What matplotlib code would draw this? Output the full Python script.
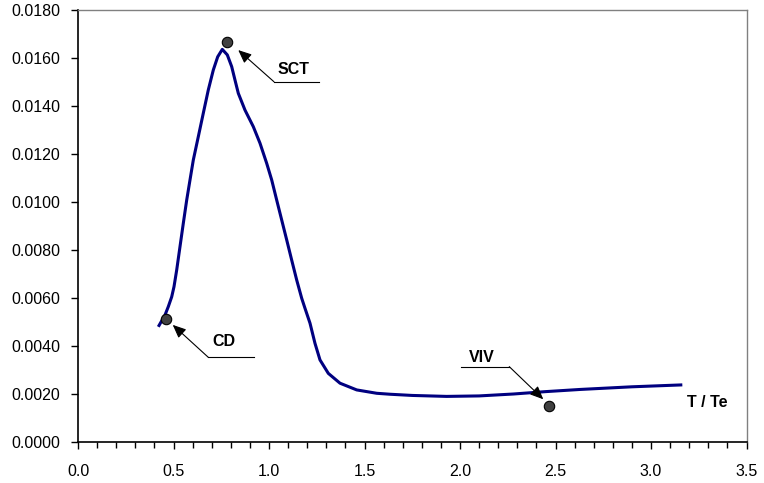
import matplotlib
matplotlib.use("Agg")
import matplotlib.pyplot as plt
from matplotlib.ticker import MultipleLocator, FormatStrFormatter

plt.rcParams['font.family'] = ['Liberation Sans', 'DejaVu Sans']

# Curve
curve_x = [0.4204, 0.4555, 0.4728, 0.4906, 0.5026, 0.5168, 0.5340, 0.5513, 0.5691, 0.5864,
           0.6037, 0.6298, 0.6560, 0.6822, 0.7084, 0.7314, 0.7555, 0.7817, 0.8047, 0.8220,
           0.8393, 0.8743, 0.9178, 0.9529, 0.9880, 1.0141, 1.0403, 1.0665, 1.0927, 1.1188,
           1.1450, 1.1712, 1.1885, 1.2147, 1.2408, 1.2670, 1.3105, 1.3717, 1.4592, 1.5639,
           1.6335, 1.7500, 1.9300, 2.1000, 2.2800, 2.4500, 2.6300, 2.9000, 3.1640]
curve_y = [0.00480, 0.00529, 0.00564, 0.00605, 0.00647, 0.00717, 0.00814, 0.00911, 0.01008, 0.01092,
           0.01175, 0.01272, 0.01370, 0.01467, 0.01550, 0.01605, 0.01636, 0.01613, 0.01564, 0.01508,
           0.01453, 0.01383, 0.01314, 0.01245, 0.01161, 0.01092, 0.01008, 0.00925, 0.00842, 0.00758,
           0.00675, 0.00599, 0.00557, 0.00495, 0.00411, 0.00342, 0.00286, 0.00245, 0.00217, 0.00203,
           0.00199, 0.00194, 0.00190, 0.00192, 0.00200, 0.00210, 0.00219, 0.00230, 0.00238]

# Marked points
point_labels = ['CD', 'SCT', 'VIV']
point_x = [0.459, 0.778, 2.464]
point_y = [0.00512, 0.01665, 0.00150]

x_ticks = [0.0, 0.5, 1.0, 1.5, 2.0, 2.5, 3.0, 3.5]
y_ticks = [0.0, 0.002, 0.004, 0.006, 0.008, 0.010, 0.012, 0.014, 0.016, 0.018]
x_axis_label = 'T / Te'

fig = plt.figure(figsize=(7.64, 4.83), dpi=100)
ax = fig.add_axes([78/764, 1-442/483, 668.5/764, 432/483])

ax.plot(curve_x, curve_y, color='#000080', lw=2.2, solid_joinstyle='round',
        solid_capstyle='butt', zorder=3)
ax.plot(point_x, point_y, 'o', ms=7.5, mfc='#404040', mec='black', mew=0.8, zorder=4)

ax.set_xlim(0, 3.5)
ax.set_ylim(0, 0.018)
ax.set_xticks(x_ticks)
ax.set_yticks(y_ticks)
ax.xaxis.set_minor_locator(MultipleLocator(0.1))
ax.xaxis.set_major_formatter(FormatStrFormatter('%.1f'))
ax.yaxis.set_major_formatter(FormatStrFormatter('%.4f'))
ax.tick_params(axis='both', which='major', direction='out', length=5, width=1,
               labelsize=11.5, colors='black')
ax.tick_params(axis='x', which='major', pad=11)
ax.tick_params(axis='y', which='major', pad=8)
ax.tick_params(axis='x', which='minor', direction='out', length=4, width=1)

for s in ['left', 'bottom']:
    ax.spines[s].set_color('black')
    ax.spines[s].set_linewidth(1.2)
for s in ['top', 'right']:
    ax.spines[s].set_color('#808080')
    ax.spines[s].set_linewidth(1.0)

# Annotations: (text pos, underline x range, underline y, arrow tip, side)
annots = {
    'SCT': ((1.127, 0.01553), (1.026, 1.263), 0.01501, (0.839, 0.01633), 'left'),
    'CD': ((0.766, 0.00418), (0.682, 0.923), 0.00353, (0.496, 0.00488), 'left'),
    'VIV': ((2.115, 0.00353), (2.004, 2.258), 0.00314, (2.436, 0.00178), 'right'),
}
for lab in point_labels:
    (tx, ty), (u0, u1), uy, (ax_, ay_), side = annots[lab]
    ax.text(tx, ty, lab, fontsize=11.5, fontweight='bold', ha='center', va='center')
    ax.plot([u0, u1], [uy, uy], color='black', lw=0.8)
    start = (u0, uy) if side == 'left' else (u1, uy)
    ax.annotate('', xy=(ax_, ay_), xytext=start,
                arrowprops=dict(arrowstyle='-|>,head_length=0.8,head_width=0.35',
                                color='black', lw=0.8, shrinkA=0, shrinkB=0))

ax.text(3.295, 0.00164, x_axis_label, fontsize=11.5, fontweight='bold',
        ha='center', va='center')

fig.savefig('out.png', dpi=100)
